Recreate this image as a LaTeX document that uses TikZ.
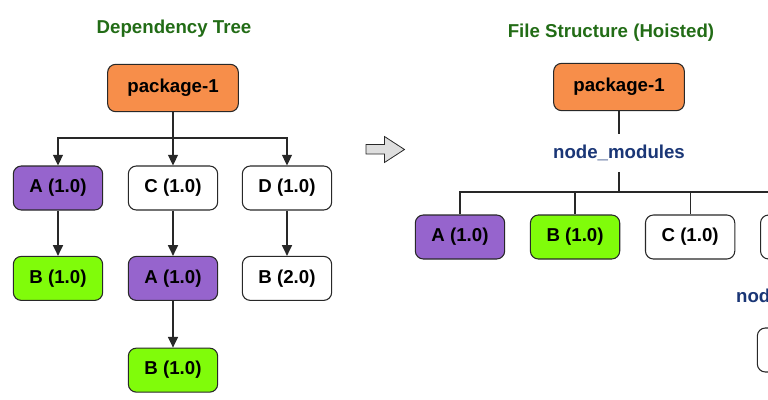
\documentclass[tikz,border=0pt]{standalone}
\usepackage{fontspec}
\setmainfont{Liberation Sans}
\usetikzlibrary{positioning,arrows.meta}
\definecolor{PkgOrange}{RGB}{247,142,74}
\definecolor{DepPurple}{RGB}{150,100,205}
\definecolor{DepGreen}{RGB}{128,252,10}
\definecolor{BoxLine}{RGB}{40,40,40}
\definecolor{TitleGreen}{RGB}{34,108,22}
\definecolor{FolderBlue}{RGB}{26,54,118}
\definecolor{HoistGray}{RGB}{222,222,222}

\begin{document}
\begin{tikzpicture}[
  x=0.75pt, y=-0.75pt,
  node distance=34pt and 18.5pt,
  every node/.style={font=\bfseries\fontsize{14}{16}\selectfont},
  depbox/.style={draw=BoxLine, fill=white, rounded corners=6pt, line width=0.8pt, minimum width=67pt, minimum height=33pt, inner sep=2pt},
  pkgbox/.style={depbox, fill=PkgOrange, minimum width=98pt, minimum height=35.5pt},
  purplebox/.style={depbox, fill=DepPurple},
  greenbox/.style={depbox, fill=DepGreen},
  treetitle/.style={text=TitleGreen},
  folder/.style={text=FolderBlue, inner sep=0pt, minimum height=28pt},
  arrow/.style={-{Triangle[width=7.5pt,length=8pt]}, line width=0.9pt, BoxLine},
  link/.style={line width=0.9pt, BoxLine}
]
\useasboundingbox (0,0) rectangle (768,400);
\clip (0,0) rectangle (768,400);

% left: dependency tree
\node[treetitle] (titleL) at (174,29) {Dependency Tree};
\node[pkgbox] (pkgL) at (173,88) {package-1};
\node[purplebox] (aL) at (58,188) {A (1.0)};
\node[depbox] (cL) at (173,188) {C (1.0)};
\node[depbox] (dL) at (287,188) {D (1.0)};
\node[greenbox, below=of aL] (abL) {B (1.0)};
\node[purplebox, below=of cL] (caL) {A (1.0)};
\node[depbox, below=of dL] (dbL) {B (2.0)};
\node[greenbox, below=35pt of caL] (cabL) {B (1.0)};

\coordinate (barL) at (173,138);
\draw[link] (pkgL) -- (barL);
\draw[arrow] (barL) -| (aL);
\draw[arrow] (barL) -- (cL);
\draw[arrow] (barL) -| (dL);
\draw[arrow] (aL) -- (abL);
\draw[arrow] (cL) -- (caL);
\draw[arrow] (dL) -- (dbL);
\draw[arrow] (caL) -- (cabL);

% hoisting arrow
\draw[fill=HoistGray, draw=BoxLine, line width=0.6pt]
  (366,144.5) -- (384.5,144.5) -- (384.5,136.5) -- (404.5,149.5)
  -- (384.5,162.5) -- (384.5,154) -- (366,154) -- cycle;

% right: hoisted file structure
\node[treetitle] (titleR) at (611,33) {File Structure (Hoisted)};
\node[pkgbox] (pkgR) at (619,87) {package-1};
\node[folder] (nmR) at (619,153) {node\_modules};
\node[purplebox] (aR) at (460,237) {A (1.0)};
\node[greenbox, right=of aR] (bR) {B (1.0)};
\node[depbox, right=of bR] (cR) {C (1.0)};
\node[depbox, right=of cR] (dR) {D (1.0)};
\node[folder] (nmD) at (802,297) {node\_modules};
\node[depbox] (dbR) at (802,350) {B (2.0)};

\coordinate (barR) at (619,192);
\draw[link] (pkgR) -- (nmR);
\draw[link] (nmR) -- (barR);
\draw[link] (barR) -| (aR);
\draw[link] (barR) -| (bR);
\draw[link] (barR) -| (cR);
\draw[link] (barR) -| (dR);
\draw[link] (dR) -- (nmD);
\draw[link] (nmD) -- (dbR);
\end{tikzpicture}
\end{document}
